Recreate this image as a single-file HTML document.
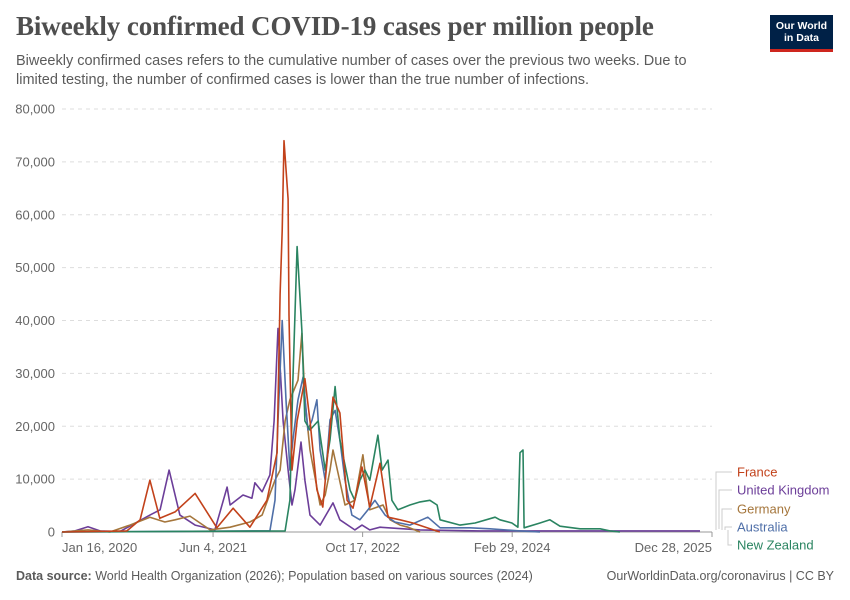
<!DOCTYPE html>
<html><head><meta charset="utf-8"><style>
body{margin:0;background:#fff;font-family:"Liberation Sans",sans-serif;}
#wrap{position:relative;width:850px;height:600px;overflow:hidden}
.title{position:absolute;left:16px;top:11px;font-family:"Liberation Serif",serif;font-size:27px;font-weight:bold;color:#4e4e4e;letter-spacing:-0.1px}
.sub{position:absolute;left:16px;top:52px;font-size:14.5px;line-height:19px;color:#5b5b5b;width:695px}
.logo{position:absolute;left:770px;top:15px;width:63px;height:37px;background:#002147;border-bottom:3px solid #ce261e;color:#fff;font-size:10.5px;font-weight:bold;text-align:center;line-height:12px;padding-top:5px;box-sizing:border-box}
.foot{position:absolute;top:569px;font-size:12.5px;color:#5b5b5b}
</style></head><body>
<div id="wrap">
<div class="title">Biweekly confirmed COVID-19 cases per million people</div>
<div class="sub">Biweekly confirmed cases refers to the cumulative number of cases over the previous two weeks. Due to limited testing, the number of confirmed cases is lower than the true number of infections.</div>
<div class="logo">Our World<br>in Data</div>
<svg id="chart" width="850" height="600" style="position:absolute;left:0;top:0"></svg>
<div class="foot" style="left:16px"><b>Data source:</b> World Health Organization (2026); Population based on various sources (2024)</div>
<div class="foot" style="right:16px">OurWorldinData.org/coronavirus | CC BY</div>
</div>
<script>
const yTicks=[0,10000,20000,30000,40000,50000,60000,70000,80000];
const xTickDays=[0,505,1005,1505,2173];
const xTickLabels=["Jan 16, 2020","Jun 4, 2021","Oct 17, 2022","Feb 29, 2024","Dec 28, 2025"];
const seriesNames=["France","United Kingdom","Germany","Australia","New Zealand"];
const seriesColors=["#c2421b","#6c3e99","#a5763c","#4f6fa8","#2a8461"];
const franceDays=[0,217,261,294,327,378,445,518,572,628,685,719,729,736,742,756,759,769,786,812,829,852,872,906,929,953,973,1003,1029,1063,1090,1130,1173,1263];
const franceValues=[0,200,2300,9800,2600,3800,7300,800,4500,900,6000,15000,45000,57000,74000,63000,41000,11700,21000,29000,21000,8000,4700,25500,22500,6000,4500,12300,4700,13000,2800,2300,1700,0];
const ukDays=[0,43,87,127,194,294,328,358,394,445,511,552,562,605,635,645,669,695,709,722,739,756,769,779,799,812,829,863,906,929,979,1003,1029,1063,1197,1397,2133];
const ukValues=[0,200,1000,200,100,3200,4200,11700,3200,1300,400,8500,5100,7000,6400,9300,7600,10800,21000,38500,21000,11700,5100,8000,17000,9800,3200,1300,5500,2300,400,1300,400,900,400,200,200];
const germanyDays=[0,87,160,227,294,344,378,428,495,562,628,669,712,729,746,762,789,802,812,829,863,880,896,906,946,979,1006,1029,1073,1097,1130,1157,1197];
const germanyValues=[0,400,0,1300,2800,1900,2300,3000,400,900,1900,3200,9800,11700,21000,25000,28700,37600,25000,15500,5100,7000,11700,15500,5100,6000,14600,4200,5100,2300,1300,900,0];
const australiaDays=[0,695,712,722,736,749,762,772,789,806,822,836,852,863,880,896,913,929,946,969,996,1023,1046,1080,1113,1163,1223,1264,1364,1431,1531,1598];
const australiaValues=[0,200,6000,21000,40000,25000,11700,17400,25000,29300,19300,21200,25000,15500,9800,21200,23000,17400,9800,3200,2300,4200,6000,3200,1900,1300,2800,800,800,600,200,0];
const nzDays=[0,746,762,772,786,802,812,829,856,880,896,913,929,963,979,996,1013,1029,1056,1070,1090,1103,1123,1163,1197,1230,1254,1264,1331,1381,1448,1464,1504,1524,1531,1541,1545,1598,1631,1665,1732,1799,1832,1865];
const nzValues=[0,200,6000,28700,54000,38000,21000,19300,21000,11700,17400,27500,17400,7900,6000,9800,11700,9800,18300,11700,13600,6000,4200,5100,5700,6000,5100,2300,1300,1700,2800,2300,1700,900,15000,15500,800,1700,2300,1100,600,600,200,0];
const seriesDays=[franceDays,ukDays,germanyDays,australiaDays,nzDays];
const seriesValues=[franceValues,ukValues,germanyValues,australiaValues,nzValues];

const X0=62,X1=712,Y0=532,Y1=109,DMAX=2173,VMAX=80000;
function xs(d){return X0+d*(X1-X0)/DMAX;}
function ys(v){return Y0-v*(Y0-Y1)/VMAX;}
const svg=document.getElementById('chart');
const NS='http://www.w3.org/2000/svg';
function mk(t,a){const e=document.createElementNS(NS,t);for(const k in a)e.setAttribute(k,a[k]);svg.appendChild(e);return e;}
yTicks.forEach(v=>{
  if(v>0){const g=mk('line',{x1:X0,x2:X1,y1:ys(v),y2:ys(v),stroke:'#ddd','stroke-dasharray':'4,4'});
  
  }
  const t=mk('text',{x:55,y:ys(v)+4.5,'text-anchor':'end','font-size':13,fill:'#666','font-family':'Liberation Sans, sans-serif'});
  t.textContent=v.toLocaleString('en-US');
  
  
});
const ax=mk('line',{x1:X0,x2:X1,y1:Y0,y2:Y0,stroke:'#999'});


xTickDays.forEach((d,i)=>{
  const tk=mk('line',{x1:xs(d),x2:xs(d),y1:Y0,y2:Y0+5,stroke:'#999'});
  
  
  const anchor=i==0?'start':(i==xTickDays.length-1?'end':'middle');
  const t=mk('text',{x:xs(d),y:552,'text-anchor':anchor,'font-size':13,fill:'#666','font-family':'Liberation Sans, sans-serif'});
  t.textContent=xTickLabels[i];
  
  
});
const drawOrder=[1,2,3,4,0];
drawOrder.forEach(i=>{
  const pts=seriesDays[i].map((d,j)=>xs(d).toFixed(1)+','+ys(seriesValues[i][j]).toFixed(1)).join(' ');
  const p=mk('polyline',{points:pts,fill:'none',stroke:seriesColors[i],'stroke-width':1.6,'stroke-linejoin':'round'});
  
  
});
const legY=[472,490,509,527,545];
seriesNames.forEach((n,i)=>{
  const lastV=seriesValues[i][seriesValues[i].length-1];
  const bx=716+i*3;
  const c=mk('polyline',{points:`${bx},${ys(lastV)-2} ${bx},${legY[i]} ${bx+16-i*3},${legY[i]}`,fill:'none',stroke:'#ccc','stroke-width':1});
  
  
  const t=mk('text',{x:737,y:legY[i]+4.5,'font-size':13,fill:seriesColors[i],'font-family':'Liberation Sans, sans-serif'});
  t.textContent=n;
  
  
});
</script>
</body></html>
